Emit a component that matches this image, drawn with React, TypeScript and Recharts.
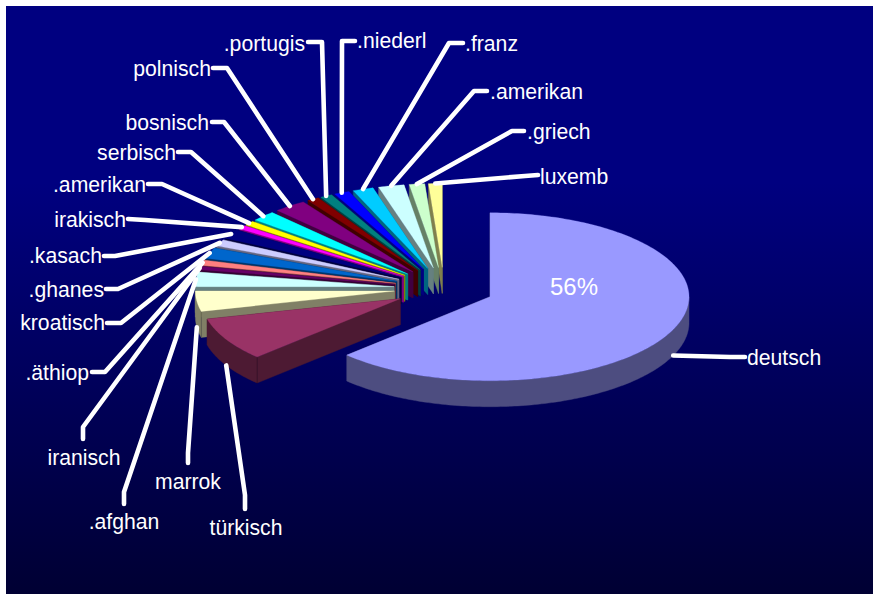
import React from 'react';
import { PieChart, Pie } from 'recharts';

// Languages, clockwise from 12 o'clock
const categories = ['deutsch', 'türkisch', 'marrok', '.afghan', 'iranisch', '.äthiop', 'kroatisch', '.ghanes', '.kasach', 'irakisch', '.amerikan', 'serbisch', 'bosnisch', 'polnisch', '.portugis', '.niederl', '.franz', '.amerikan', '.griech', 'luxemb'];
const shares = [56, 9.85, 4.6, 3.28, 0.82, 1.15, 2.46, 1.48, 2.13, 0.82, 0.99, 2.3, 3.12, 1.15, 1.15, 1.48, 1.97, 2.46, 1.48, 1.31];
const colors = ['#9999FF', '#993366', '#FFFFCC', '#CCFFFF', '#660066', '#FF8080', '#0066CC', '#CCCCFF', '#000080', '#FF00FF', '#FFFF00', '#00FFFF', '#800080', '#800000', '#008080', '#0000FF', '#00CCFF', '#CCFFFF', '#CCFFCC', '#FFFF99'];

// Hand-placed label layout, same order: elbow, end of the leader, text anchor
type Anchor = 'start' | 'end' | 'middle';
const leaders: [number, number, number, number, number, number, Anchor][] = [
  [730, 357, 745, 357, 747, 365, 'start'],
  [245, 495, 245, 509, 246, 535, 'middle'],
  [188, 453, 188, 463, 188, 489, 'middle'],
  [124, 492, 124, 504, 124, 529, 'middle'],
  [83, 427, 83, 439, 84, 465, 'middle'],
  [105, 372, 92, 372, 89, 380, 'end'],
  [121, 323, 107, 323, 105, 330, 'end'],
  [118, 289, 106, 289, 104, 297, 'end'],
  [115, 256, 104, 256, 102, 263, 'end'],
  [145, 220, 128, 219, 126, 227, 'end'],
  [162, 184, 148, 184, 146, 192, 'end'],
  [191, 152, 178, 152, 176, 160, 'end'],
  [224, 122, 212, 122, 209, 130, 'end'],
  [227, 68, 213, 68, 211, 76, 'end'],
  [322, 42, 308, 42, 305, 51, 'end'],
  [342, 41, 355, 41, 357, 48, 'start'],
  [449, 43, 463, 43, 465, 51, 'start'],
  [474, 91, 487, 91, 490, 99, 'start'],
  [512, 131, 524, 131, 527, 139, 'start'],
  [525, 176, 538, 175, 540, 184, 'start'],
];

const rows = categories
  .map((name, i) => ({ name, value: shares[i], fill: colors[i], i }))
  .reverse(); // back slices first, so nearer slices paint over them

const RADIUS = 199;
const TILT = 0.422;
const DEPTH = 26;
const EXPLODE = 50;
const FONT = '"Liberation Sans", Arial, sans-serif';

const total = shares.reduce((a, b) => a + b, 0);
const mainSweep = (shares[0] / total) * 360;
const MAIN_DRAWN = 226; // perspective widens the near slice

const rad = (d: number) => (d * Math.PI) / 180;
// Pie angle -> drawn clockwise angle from the top, with the perspective distortion
const drawn = (pieAngle: number) => {
  const phi = 450 - pieAngle;
  return phi <= mainSweep
    ? (phi * MAIN_DRAWN) / mainSweep
    : MAIN_DRAWN + ((phi - mainSweep) * (360 - MAIN_DRAWN)) / (360 - mainSweep);
};
const apexOf = (cx: number, cy: number, mid: number) => ({
  x: cx + EXPLODE * Math.sin(rad(mid)),
  y: cy - EXPLODE * TILT * Math.cos(rad(mid)),
});
const rimOf = (a: { x: number; y: number }, t: number): [number, number] => [
  a.x + RADIUS * Math.sin(rad(t)),
  a.y - RADIUS * TILT * Math.cos(rad(t)),
];
const darken = (hex: string) => {
  const n = parseInt(hex.slice(1), 16);
  const c = (s: number) => Math.round(((n >> s) & 255) * 0.5);
  return `rgb(${c(16)},${c(8)},${c(0)})`;
};
const poly = (pts: [number, number][]) => pts.map((p) => `${p[0].toFixed(2)},${p[1].toFixed(2)}`).join(' ');

const Slice = (props: any) => {
  const { cx, cy, startAngle, endAngle, fill } = props;
  const a1 = drawn(Math.max(startAngle, endAngle));
  const a2 = drawn(Math.min(startAngle, endAngle));
  const apex = apexOf(cx, cy, (a1 + a2) / 2);
  const arc: [number, number][] = [];
  const steps = Math.max(2, Math.ceil(a2 - a1));
  for (let k = 0; k <= steps; k++) arc.push(rimOf(apex, a1 + ((a2 - a1) * k) / steps));
  const side = darken(fill);
  const down = (p: [number, number]): [number, number] => [p[0], p[1] + DEPTH];
  const ap: [number, number] = [apex.x, apex.y];
  const p1 = arc[0];
  const p2 = arc[arc.length - 1];
  const band: [number, number][] = [];
  const lo = Math.max(a1, 90);
  const hi = Math.min(a2, 270);
  if (hi > lo) {
    const n = Math.ceil(hi - lo);
    const pts: [number, number][] = [];
    for (let k = 0; k <= n; k++) pts.push(rimOf(apex, lo + ((hi - lo) * k) / n));
    band.push(...pts, ...pts.slice().reverse().map(down));
  }
  const front = a1 >= 90 && a1 <= 270 ? p1 : null;
  return (
    <g>
      <polygon points={poly([ap, p2, down(p2), down(ap)])} fill={side} stroke={side} strokeWidth={0.4} />
      <polygon points={poly([ap, p1, down(p1), down(ap)])} fill={side} stroke={side} strokeWidth={0.4} />
      {band.length > 0 && <polygon points={poly(band)} fill={side} stroke={side} strokeWidth={0.4} />}
      {front && <line x1={front[0]} y1={front[1]} x2={front[0]} y2={front[1] + DEPTH} stroke="rgba(0,0,0,0.25)" strokeWidth={0.8} />}
      <polygon points={poly([ap, ...arc])} fill={fill} stroke={fill} strokeWidth={0.3} />
    </g>
  );
};

const leaderStart = (props: any): [number, number] => {
  const { cx, cy, midAngle } = props;
  const mid = drawn(midAngle);
  const p = rimOf(apexOf(cx, cy, mid), mid);
  const front = mid > 90 && mid < 270;
  return [p[0], p[1] + (front ? DEPTH : 0)];
};

const Leader = (props: any) => {
  const row = props.payload?.i !== undefined ? props.payload : rows[props.index];
  const [ex, ey, tx, ty] = leaders[row.i];
  const s = leaderStart(props);
  return (
    <polyline
      points={poly([s, [ex, ey], [tx, ty]])}
      fill="none"
      stroke="#fff"
      strokeWidth={4.6}
      strokeLinecap="round"
      strokeLinejoin="round"
    />
  );
};

const Label = (props: any) => {
  const row = props.payload?.i !== undefined ? props.payload : rows[props.index];
  const l = leaders[row.i];
  const isMain = row.i === 0;
  return (
    <g>
      <text x={l[4]} y={l[5]} textAnchor={l[6]} fontFamily={FONT} fontSize={21.2} fill="#fff">
        {row.name}
      </text>
      {isMain && (
        <text x={574} y={295} textAnchor="middle" fontFamily={FONT} fontSize={24} fill="#fff">
          {`${Math.round((row.value / total) * 100)}%`}
        </text>
      )}
    </g>
  );
};

export default function App() {
  return (
    <div style={{ position: 'fixed', left: 0, top: 0, width: 873, height: 594, background: '#fff', overflow: 'hidden' }}>
      <div
        style={{
          position: 'absolute',
          left: 6,
          top: 6,
          width: 867,
          height: 588,
          background: 'linear-gradient(to bottom, #000080 0%, #000080 30%, #000033 100%)',
        }}
      />
      <div style={{ position: 'absolute', left: 0, top: 0 }}>
        <PieChart width={873} height={594} margin={{ top: 0, right: 0, bottom: 0, left: 0 }}>
          <Pie
            data={rows}
            dataKey="value"
            nameKey="name"
            cx={444}
            cy={288.5}
            innerRadius={0}
            outerRadius={RADIUS}
            startAngle={90}
            endAngle={450}
            stroke="none"
            isAnimationActive={false}
            shape={Slice}
            label={Label}
            labelLine={Leader}
          />
        </PieChart>
      </div>
    </div>
  );
}
